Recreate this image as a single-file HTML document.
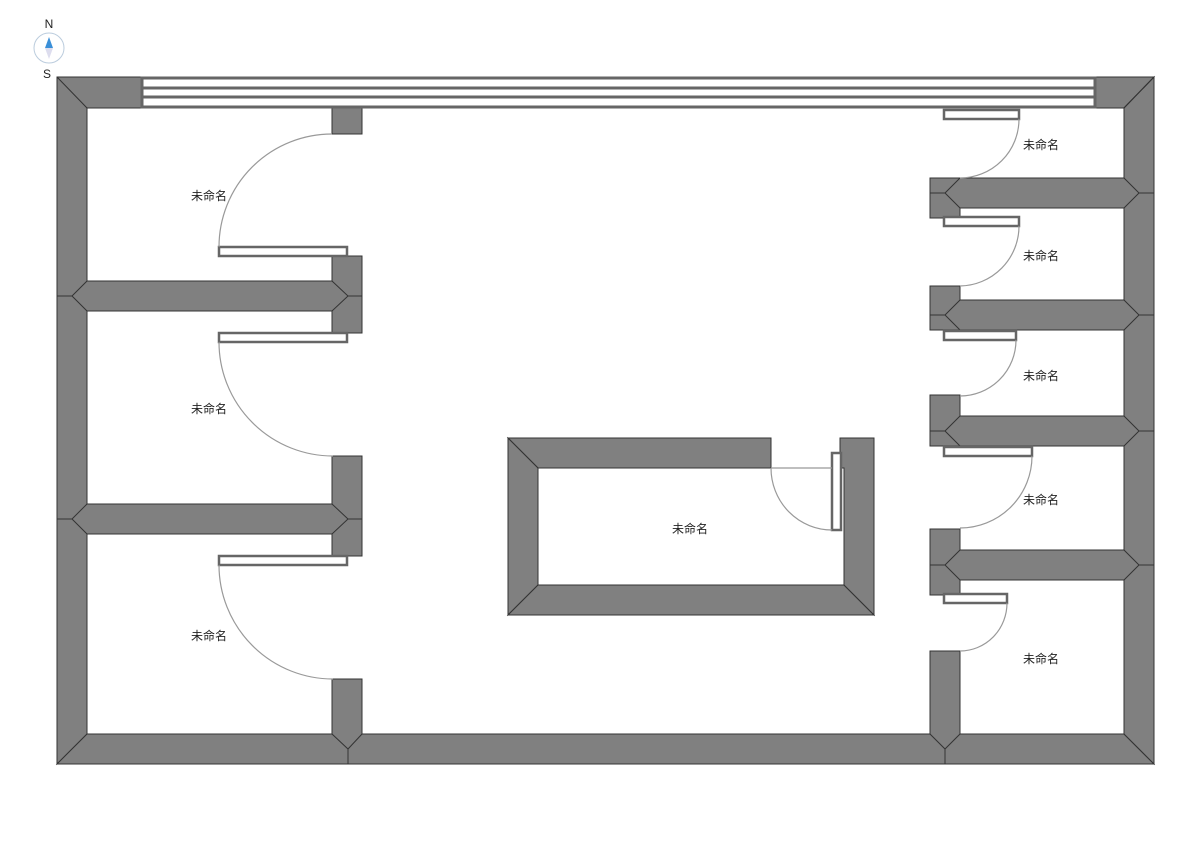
<!DOCTYPE html>
<html><head><meta charset="utf-8"><style>
html,body{margin:0;padding:0;background:#fff;}
svg{display:block;}
text{font-family:"Liberation Sans","Noto Sans CJK SC",sans-serif;font-size:12px;fill:#222;}
</style></head><body>
<svg width="1191" height="842" viewBox="0 0 1191 842" xmlns="http://www.w3.org/2000/svg">
<g fill="#808080" stroke="#333" stroke-width="1">
<!-- outer walls -->
<polygon points="57,77 141,77 141,108 87,108 87,296 57,296"/>
<polygon points="57,296 87,296 87,734 57,764"/>
<polygon points="57,764 87,734 348,734 348,764"/>
<polygon points="348,764 348,734 945,734 945,764"/>
<polygon points="945,764 945,734 1124,734 1154,764"/>
<polygon points="1096,77 1154,77 1124,108 1096,108"/>
<polygon points="1154,77 1154,764 1124,734 1124,108"/>
<!-- left interior -->
<rect x="332" y="108" width="30" height="26"/>
<polygon points="332,256 362,256 362,333 332,333"/>
<polygon points="87,281 332,281 348,296 332,311 87,311 72,296"/>
<polygon points="332,456 362,456 362,556 332,556"/>
<polygon points="87,504 332,504 348,519 332,534 87,534 72,519"/>
<polygon points="332,679 362,679 362,734 348,749 332,734"/>
<!-- right interior -->
<polygon points="930,178 960,178 960,218 930,218"/>
<polygon points="960,178 1124,178 1139,193 1124,208 960,208 945,193"/>
<polygon points="930,286 960,286 960,330 930,330"/>
<polygon points="960,300 1124,300 1139,315 1124,330 960,330 945,315"/>
<polygon points="930,395 960,395 960,446 930,446"/>
<polygon points="960,416 1124,416 1139,431 1124,446 960,446 945,431"/>
<polygon points="930,529 960,529 960,595 930,595"/>
<polygon points="960,550 1124,550 1139,565 1124,580 960,580 945,565"/>
<polygon points="930,651 960,651 960,734 945,749 930,734"/>
<!-- center room -->
<polygon points="508,438 771,438 771,468 538,468"/>
<polygon points="508,438 538,468 538,585 508,615"/>
<polygon points="508,615 538,585 844,585 874,615"/>
<polygon points="840,438 874,438 874,615 844,585 844,468 840,468"/>
</g>
<g stroke="#333" stroke-width="1">
<line x1="57" y1="77" x2="87" y2="108"/>
<line x1="1154" y1="77" x2="1124" y2="108"/>
<line x1="57" y1="296" x2="72" y2="296"/>
<line x1="57" y1="519" x2="72" y2="519"/>
<line x1="348" y1="296" x2="362" y2="296"/>
<line x1="348" y1="519" x2="362" y2="519"/>
<line x1="930" y1="193" x2="945" y2="193"/>
<line x1="930" y1="315" x2="945" y2="315"/>
<line x1="930" y1="431" x2="945" y2="431"/>
<line x1="930" y1="565" x2="945" y2="565"/>
<line x1="1139" y1="193" x2="1154" y2="193"/>
<line x1="1139" y1="315" x2="1154" y2="315"/>
<line x1="1139" y1="431" x2="1154" y2="431"/>
<line x1="1139" y1="565" x2="1154" y2="565"/>
<line x1="348" y1="749" x2="348" y2="764"/>
<line x1="945" y1="749" x2="945" y2="764"/>
</g>
<!-- window -->
<g fill="#fff" stroke="#666" stroke-width="3">
<rect x="142" y="78" width="953" height="29"/>
<line x1="142" y1="88" x2="1095" y2="88"/>
<line x1="142" y1="97" x2="1095" y2="97"/>
</g>
<!-- doors -->
<g fill="#fff" stroke="#666" stroke-width="2.5">
<rect x="219" y="247" width="128" height="9"/>
<rect x="219" y="333" width="128" height="9"/>
<rect x="219" y="556" width="128" height="9"/>
<rect x="944" y="110" width="75" height="9"/>
<rect x="944" y="217" width="75" height="9"/>
<rect x="944" y="331" width="72" height="9"/>
<rect x="944" y="447" width="88" height="9"/>
<rect x="944" y="594" width="63" height="9"/>
<rect x="832" y="453" width="9" height="77"/>
</g>
<g fill="none" stroke="#999" stroke-width="1.2">
<path d="M219,247 A113,113 0 0 1 332,134"/>
<path d="M219,342 A114,114 0 0 0 333,456"/>
<path d="M219,565 A114,114 0 0 0 333,679"/>
<path d="M1019,119 A59,59 0 0 1 960,178"/>
<path d="M1019,226 A60,60 0 0 1 960,286"/>
<path d="M1016,340 A56,56 0 0 1 960,396"/>
<path d="M1032,456 A72,72 0 0 1 960,528"/>
<path d="M1007,603 A47,48 0 0 1 960,651"/>
<path d="M771,468 A61,62 0 0 0 832,530"/>
<line x1="771" y1="468" x2="832" y2="468"/>
</g>
<!-- labels -->
<g text-anchor="middle">
<text x="209" y="200">未命名</text>
<text x="209" y="413">未命名</text>
<text x="209" y="640">未命名</text>
<text x="1041" y="149">未命名</text>
<text x="1041" y="260">未命名</text>
<text x="1041" y="380">未命名</text>
<text x="1041" y="504">未命名</text>
<text x="1041" y="663">未命名</text>
<text x="690" y="533">未命名</text>
</g>
<!-- compass -->
<circle cx="49" cy="48" r="15" fill="#fff" stroke="#bcd" stroke-width="1"/>
<polygon points="49,37 45,48 53,48" fill="#3a8fd8"/>
<polygon points="49,59 45,48 53,48" fill="#dde"/>
<text x="49" y="28" text-anchor="middle" style="font-size:12px">N</text>
<text x="47" y="78" text-anchor="middle" style="font-size:12px">S</text>
</svg>
</body></html>
